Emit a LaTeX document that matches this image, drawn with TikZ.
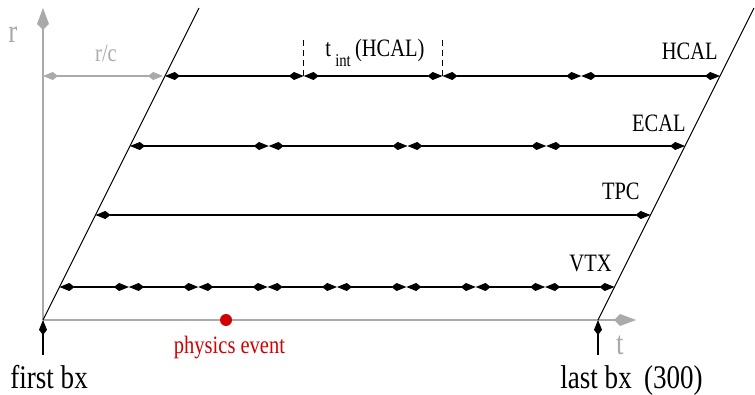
\documentclass[tikz,border=0pt]{standalone}
\usepackage{fontspec}
\setmainfont{Liberation Serif}[FakeStretch=0.82]
\usetikzlibrary{arrows.meta,calc}
\definecolor{axisgray}{RGB}{170,170,170}
\definecolor{evred}{RGB}{210,0,0}

\begin{document}
\begin{tikzpicture}[
  x=0.5pt,y=-0.5pt,
  lbl/.style={font=\fontsize{12.5}{14}\selectfont,inner sep=0pt},
  biglbl/.style={font=\fontsize{16.5}{19}\selectfont,inner sep=0pt},
  seg/.style={<->,line width=0.6pt},
  axis/.style={color=axisgray,line width=1pt},
  slant/.style={line width=0.5pt},
  >={Kite[length=7.5pt,width=4pt,inset=2.6pt]}
]
\useasboundingbox (0,0) rectangle (755,395);
% ---------------- axes ----------------
\coordinate (orig) at (43,320);
\coordinate (rtip) at (43,8);
\coordinate (ttip) at (636,320);
\draw[axis,-{Kite[length=11pt,width=6pt,inset=3pt]}] (orig) -- (rtip);
\draw[axis,-{Kite[length=11pt,width=6pt,inset=3pt]}] (orig) -- (ttip);
\node[biglbl,text=axisgray,anchor=base] (rlbl) at (13,43) {r};
\node[biglbl,text=axisgray,anchor=base] (tlbl) at (620,355) {t};

% ---------------- bunch train ----------------
\coordinate (first) at (43,320); \coordinate (firsttop) at (199,8);
\coordinate (last) at (598,320); \coordinate (lasttop) at (754,8);
\draw[slant] (first) -- (firsttop);
\draw[slant] (last) -- (lasttop);
\coordinate (firstfoot) at (43,355); \coordinate (lastfoot) at (598,355);
\draw[->,line width=0.6pt] (firstfoot) -- (first);
\draw[->,line width=0.6pt] (lastfoot) -- (last);
\node[biglbl,anchor=base west] (firstlbl) at (10,388) {first bx};
\node[biglbl,anchor=base west] (lastlbl) at (560,388) {last bx\ \,(300)};

% ---------------- readout windows ----------------
\coordinate (hcal0) at (165,76); \coordinate (hcal4) at (720,76);
\foreach \i in {1,2,3} \coordinate (hcal\i) at ($(hcal0)!\i/4!(hcal4)$);
\foreach \i [remember=\i as \j (initially 0)] in {1,...,4} \draw[seg] (hcal\j) -- (hcal\i);

\coordinate (ecal0) at (130,146); \coordinate (ecal4) at (685,146);
\foreach \i in {1,2,3} \coordinate (ecal\i) at ($(ecal0)!\i/4!(ecal4)$);
\foreach \i [remember=\i as \j (initially 0)] in {1,...,4} \draw[seg] (ecal\j) -- (ecal\i);

\coordinate (tpc0) at (95.5,215); \coordinate (tpc1) at (650.5,215);
\draw[seg] (tpc0) -- (tpc1);

\coordinate (vtx0) at (59.5,287); \coordinate (vtx8) at (614.5,287);
\foreach \i in {1,...,7} \coordinate (vtx\i) at ($(vtx0)!\i/8!(vtx8)$);
\foreach \i [remember=\i as \j (initially 0)] in {1,...,8} \draw[seg] (vtx\j) -- (vtx\i);

\node[lbl,anchor=base east] (hcallbl) at (718,60) {HCAL};
\node[lbl,anchor=base east] (ecallbl) at (686,132) {ECAL};
\node[lbl,anchor=base east] (tpclbl) at (640,200) {TPC};
\node[lbl,anchor=base east] (vtxlbl) at (612,271) {VTX};

% integration time of one HCAL window
\coordinate (tick1) at ($(hcal1)+(0,-37)$);
\coordinate (tick2) at ($(hcal2)+(0,-37)$);
\draw[line width=0.5pt,dash pattern=on 3pt off 2pt] (hcal1) -- (tick1);
\draw[line width=0.5pt,dash pattern=on 3pt off 2pt] (hcal2) -- (tick2);
\node[lbl,anchor=base west] (tintlbl) at (325,57)
     {t\,\raisebox{-5pt}{\fontsize{9}{10}\selectfont int}\,(HCAL)};

% light travel time
\coordinate (rc0) at (43,76); \coordinate (rc1) at (163,76);
\draw[seg,color=axisgray] (rc0) -- (rc1);
\node[lbl,text=axisgray,anchor=base] (rclbl) at (106,62) {r/c};

% ---------------- event ----------------
\node[circle,fill=evred,inner sep=0pt,minimum size=6pt] (evt) at (226,320) {};
\node[lbl,text=evred,anchor=base] (evtlbl) at (229.5,353) {physics event};
\end{tikzpicture}
\end{document}
